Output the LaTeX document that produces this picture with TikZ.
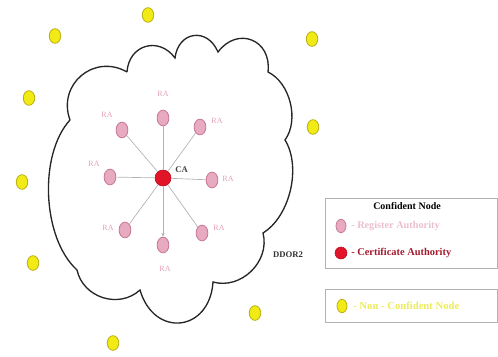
\documentclass[tikz,border=0pt]{standalone}
\usepackage{fontspec}
\setmainfont{Liberation Serif}
\usetikzlibrary{arrows.meta}
\definecolor{rafill}{RGB}{232,170,192}
\definecolor{radraw}{RGB}{200,120,150}
\definecolor{ratext}{RGB}{228,160,185}
\definecolor{cafill}{RGB}{225,20,40}
\definecolor{cadraw}{RGB}{180,10,30}
\definecolor{yfill}{RGB}{242,234,20}
\definecolor{ydraw}{RGB}{185,175,20}
\definecolor{ytext}{RGB}{236,236,90}
\definecolor{cert}{RGB}{165,25,45}
\definecolor{regt}{RGB}{236,190,206}
\tikzset{
  ranode/.style={ellipse, draw=radraw, fill=rafill, line width=0.6pt, minimum width=8.8pt, minimum height=11.8pt, inner sep=0pt},
  canode/.style={circle, draw=cadraw, fill=cafill, minimum size=12pt, inner sep=0pt},
  ynode/.style={ellipse, draw=ydraw, fill=yfill, line width=0.6pt, minimum width=8.6pt, minimum height=11pt, inner sep=0pt},
  ralbl/.style={font=\fontsize{6}{6}\selectfont, text=ratext, inner sep=0pt},
  link/.style={draw=gray!60, line width=0.5pt},
  legbox/.style={draw=gray!60, line width=0.6pt},
  cloudline/.style={draw=black!85, line width=1pt},
}
\usetikzlibrary{shapes.geometric}
\begin{document}
\begin{tikzpicture}[x=0.75pt,y=-0.75pt]
\useasboundingbox (0,0) rectangle (498,356);
% cloud
\coordinate (v1) at (127,72);
\coordinate (v2) at (175,58);
\coordinate (v3) at (218,52);
\coordinate (v4) at (268,72);
\coordinate (v5) at (285,140);
\coordinate (v6) at (263,233);
\coordinate (v7) at (213,282);
\coordinate (v8) at (140,290);
\coordinate (v9) at (77,270);
\coordinate (v10) at (70,120);
\draw[cloudline] (v1) to[bend left=70, looseness=1.4] (v2)
  to[bend left=75, looseness=1.6] (v3)
  to[bend left=75, looseness=1.55] (v4)
  to[bend left=50, looseness=0.9] (v5)
  to[bend left=45, looseness=0.85] (v6)
  to[bend left=60, looseness=1.07] (v7)
  to[bend left=80, looseness=1.75] (v8)
  to[bend left=60, looseness=1.1] (v9)
  to[bend left=45, looseness=0.8] (v10)
  to[bend left=70, looseness=1.3] (v1);
% CA and RAs
\node[canode] (ca) at (163,178) {};
\node[font=\fontsize{6.5}{6.5}\selectfont\bfseries, text=black!75, anchor=west, inner sep=0pt] (calbl) at (175,170) {CA};
\node[ranode] (rt) at (163,118) {};
\node[ranode] (rtl) at (122,130) {};
\node[ranode] (rtr) at (200,127) {};
\node[ranode] (rl) at (110,177) {};
\node[ranode] (rr) at (212,180) {};
\node[ranode] (rbl) at (125,230) {};
\node[ranode] (rbr) at (202,233) {};
\node[ranode] (rb) at (163,245) {};
\node[ralbl] (lt) at (163,94) {RA};
\node[ralbl] (ltl) at (107,115) {RA};
\node[ralbl] (ltr) at (217,121) {RA};
\node[ralbl] (ll) at (94,164) {RA};
\node[ralbl] (lr) at (228,179) {RA};
\node[ralbl] (lbl) at (108,228) {RA};
\node[ralbl] (lbr) at (219,228) {RA};
\node[ralbl] (lb) at (165,269) {RA};
\foreach \n in {rt,rtl,rtr,rl,rr,rbl,rbr} \draw[link] (ca) -- (\n);
\draw[link, -{Stealth[length=3pt,width=2.5pt]}] (ca) -- (rb);
% label
\node[font=\fontsize{6.5}{6.5}\selectfont\bfseries, text=black!80, inner sep=0pt] (dd) at (288,255) {DDOR2};
% yellow nodes
\node[ynode] (y1) at (55,36) {};
\node[ynode] (y2) at (148,15) {};
\node[ynode] (y3) at (312,39) {};
\node[ynode] (y4) at (29,98) {};
\node[ynode] (y5) at (313,127) {};
\node[ynode] (y6) at (22,182) {};
\node[ynode] (y7) at (33,263) {};
\node[ynode] (y8) at (113,343) {};
\node[ynode] (y9) at (255,313) {};
% legend
\draw[legbox] (325,198) rectangle (497,268);
\node[font=\fontsize{7.5}{7.5}\selectfont\bfseries, inner sep=0pt] (lt1) at (407,206) {Confident Node};
\node[ranode, minimum width=7.5pt, minimum height=10pt] (lra) at (341,226) {};
\node[anchor=west, font=\fontsize{7.7}{7.7}\selectfont\bfseries, text=regt, inner sep=0pt] (lrat) at (351,226) {- Register Authority};
\node[canode, minimum size=9pt] (lca) at (341,253) {};
\node[anchor=west, font=\fontsize{7.8}{7.8}\selectfont\bfseries, text=cert, inner sep=0pt] (lcat) at (351,253) {- Certificate Authority};
\draw[legbox] (325,289) rectangle (497,322);
\node[ynode, minimum width=7.5pt, minimum height=10pt] (lyn) at (342,306) {};
\node[anchor=west, font=\fontsize{8}{8}\selectfont\bfseries, text=ytext, inner sep=0pt] (lynt) at (353,306) {- Non - Confident Node};
\end{tikzpicture}
\end{document}
